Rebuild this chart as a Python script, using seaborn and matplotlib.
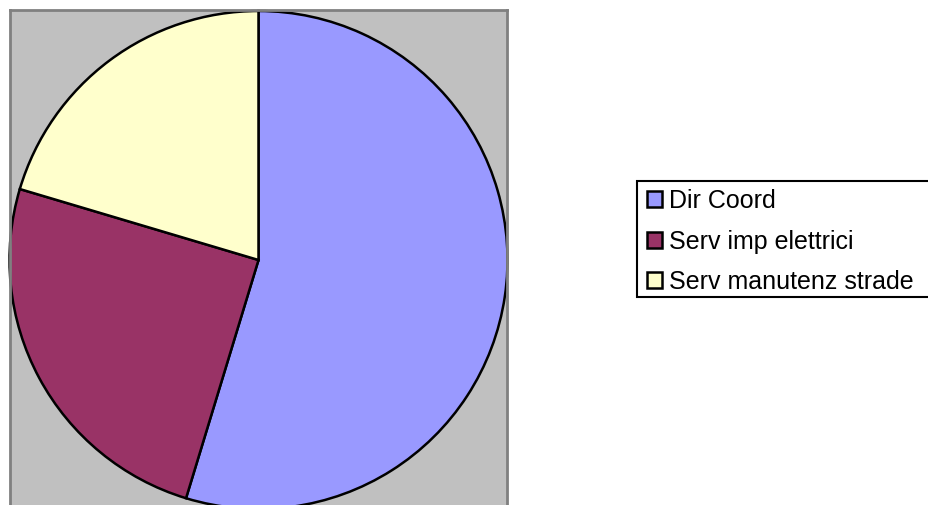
import matplotlib
matplotlib.use("Agg")
import matplotlib.pyplot as plt
import matplotlib.patches as mpatches
import seaborn as sns

# Data
labels = ["Dir Coord", "Serv imp elettrici", "Serv manutenz strade"]
values = [54.7, 24.9, 20.4]
colors = ["#9999FF", "#993366", "#FFFFCC"]

sns.set_theme(style="white")
plt.rcParams['font.family'] = ['Liberation Sans', 'DejaVu Sans']

W, H = 929, 505
fig = plt.figure(figsize=(W / 100, H / 100), dpi=100)
fig.patch.set_facecolor("white")

# plot area (gray square, bottom runs off the image)
left, top, right, bottom = 10, 10, 507, 515
ax = fig.add_axes([left / W, 1 - bottom / H, (right - left) / W, (bottom - top) / H])
ax.set_facecolor("#C0C0C0")
for s in ax.spines.values():
    s.set_visible(True)
    s.set_color("#808080")
    s.set_linewidth(2)

wedges, _ = ax.pie(values, colors=colors, startangle=90, counterclock=False,
                   radius=249, center=(0, 0),
                   wedgeprops=dict(edgecolor="black", linewidth=1.8))
ax.set_aspect("auto")
ax.set_xlim(-248.5, 248.5)
ax.set_ylim(-255, 250)
ax.set_xticks([])
ax.set_yticks([])
ax.set_frame_on(True)

# legend frame (right side runs off the image)
frame = mpatches.Rectangle((637 / W, 1 - 297 / H), 400 / W, 116 / H,
                           transform=fig.transFigure, facecolor="white",
                           edgecolor="black", linewidth=1.5, zorder=0)
fig.patches.append(frame)

handles = [mpatches.Patch(facecolor=c, edgecolor="black", linewidth=1.8) for c in colors]
leg = fig.legend(handles, labels, loc="upper left",
                 bbox_to_anchor=(642 / W, 1 - 184 / H),
                 frameon=False, fontsize=18, handlelength=0.6, handleheight=0.6,
                 handletextpad=0.28, labelspacing=0.66, borderpad=0.2,
                 borderaxespad=0, labelcolor="black")

fig.savefig("out.png", dpi=100)
